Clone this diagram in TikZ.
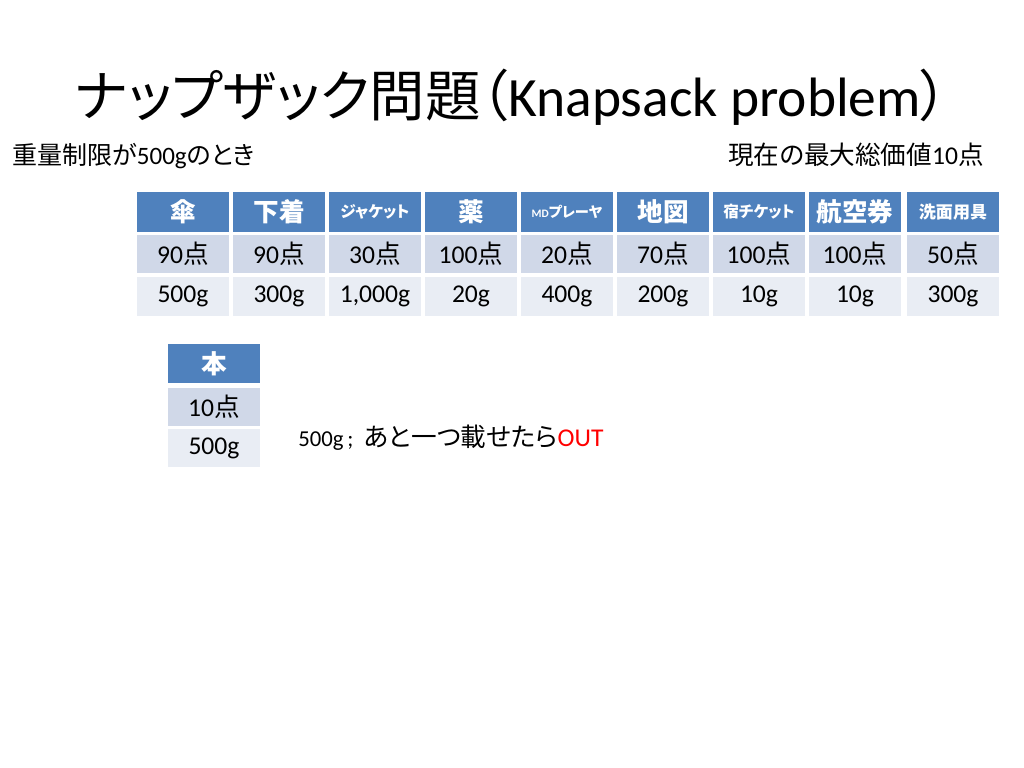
\documentclass[tikz,border=0pt]{standalone}
\usepackage{fontspec}
\setmainfont{Carlito}
\newfontfamily\jp{Noto Sans CJK JP}[RawFeature=+palt]
\newcommand\J[1]{{\jp #1}}
\definecolor{hdrblue}{HTML}{4F81BD}
\definecolor{rowa}{HTML}{D0D8E8}
\definecolor{rowb}{HTML}{E9EDF4}
\definecolor{outred}{HTML}{FF0000}
\tikzset{
  cellbase/.style={inner sep=0pt, minimum width=64.7pt, text=black},
  hdr/.style={cellbase, fill=hdrblue, text=white, minimum height=28.1pt, font=\bfseries\fontsize{18}{20}\selectfont},
  hdrsmall/.style={hdr, font=\bfseries\fontsize{#1}{#1}\selectfont},
  rowone/.style={cellbase, fill=rowa, minimum height=26.7pt, font=\fontsize{18}{20}\selectfont},
  rowtwo/.style={cellbase, fill=rowb, minimum height=27.4pt, font=\fontsize{18}{20}\selectfont},
  plain/.style={inner sep=0pt, text=black}
}
\begin{document}
\begin{tikzpicture}[x=0.703125pt, y=-0.703125pt]
\useasboundingbox (0,0) rectangle (1024,768);
\fill[white] (0,0) rectangle (1024,768);
% title
\node[plain, anchor=base west, font=\fontsize{39}{46}\selectfont] (title) at (75,117)
  {\J{ナップザック問題（}Knapsack problem\J{）}};
\node[plain, anchor=base west, font=\fontsize{17.6}{22}\selectfont] (limit) at (12,165)
  {\J{重量制限が}500g\J{のとき}};
\node[plain, anchor=base east, font=\fontsize{18}{22}\selectfont] (current) at (984,165)
  {\J{現在の最大総価値}10\J{点}};
% headers
\node[hdr] (h1) at (183,212) {\J{傘}};
\node[hdr] (h2) at (279,212) {\J{下着}};
\node[hdrsmall=11] (h3) at (375,212) {\J{ジャケット}};
\node[hdr] (h4) at (471,212) {\J{薬}};
\node[hdrsmall=10] (h5) at (567,212) {{\fontsize{8}{9}\selectfont MD}\J{プレーヤ}};
\node[hdr] (h6) at (663,212) {\J{地図}};
\node[hdrsmall=11] (h7) at (759,212) {\J{宿チケット}};
\node[hdr] (h8) at (855,212) {\J{航空券}};
\node[hdrsmall=12] (h9) at (953,212) {\J{洗面用具}};
% points
\node[rowone] (p1) at (183,254) {90\J{点}};
\node[rowone] (p2) at (279,254) {90\J{点}};
\node[rowone] (p3) at (375,254) {30\J{点}};
\node[rowone] (p4) at (471,254) {100\J{点}};
\node[rowone] (p5) at (567,254) {20\J{点}};
\node[rowone] (p6) at (663,254) {70\J{点}};
\node[rowone] (p7) at (759,254) {100\J{点}};
\node[rowone] (p8) at (855,254) {100\J{点}};
\node[rowone] (p9) at (953,254) {50\J{点}};
% weights
\node[rowtwo] (w1) at (183,296.5) {500g};
\node[rowtwo] (w2) at (279,296.5) {300g};
\node[rowtwo] (w3) at (375,296.5) {1,000g};
\node[rowtwo] (w4) at (471,296.5) {20g};
\node[rowtwo] (w5) at (567,296.5) {400g};
\node[rowtwo] (w6) at (663,296.5) {200g};
\node[rowtwo] (w7) at (759,296.5) {10g};
\node[rowtwo] (w8) at (855,296.5) {10g};
\node[rowtwo] (w9) at (953,296.5) {300g};
% book table
\node[hdr, minimum height=27.4pt] (bh) at (214,363.5) {\J{本}};
\node[rowone] (bp) at (214,407) {10\J{点}};
\node[rowtwo, minimum height=26.7pt] (bw) at (214,448) {500g};
% note
\node[plain, anchor=base west, font=\fontsize{18}{22}\selectfont] (note) at (298,446)
  {{\fontsize{16}{20}\selectfont 500g\,;\ \ }\J{あと一つ載せたら}\textcolor{outred}{OUT}};
\end{tikzpicture}
\end{document}
